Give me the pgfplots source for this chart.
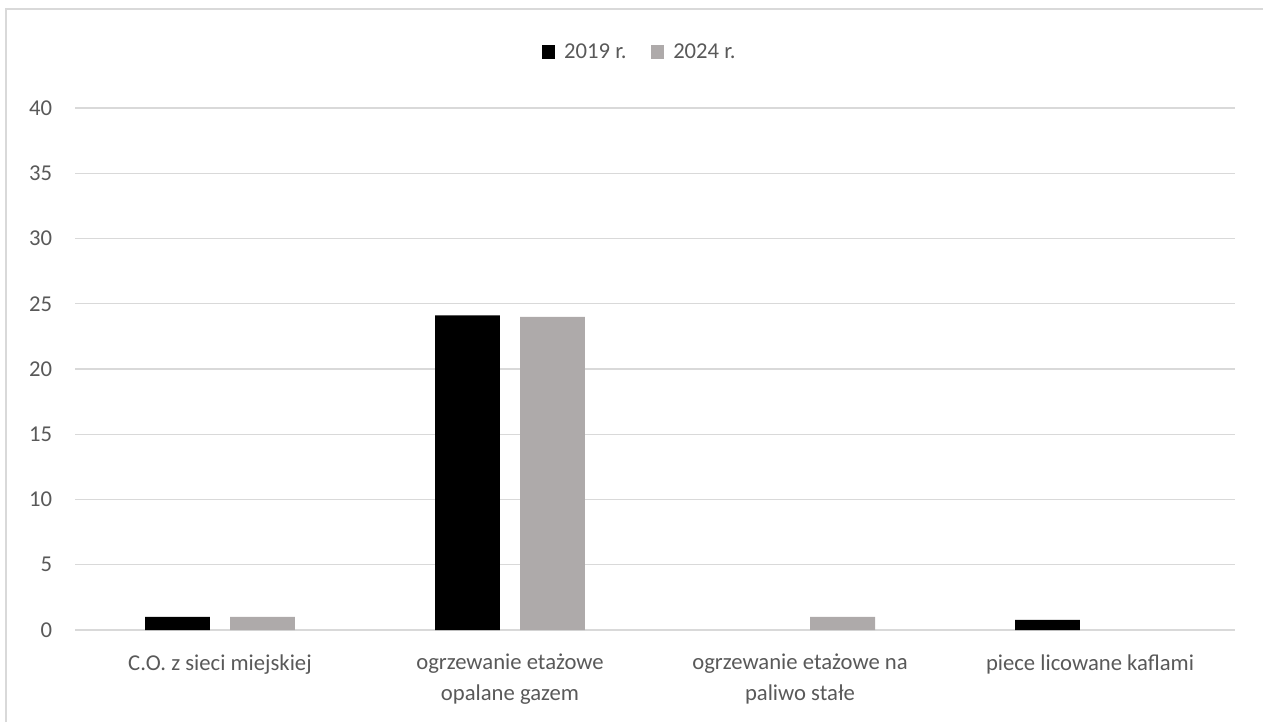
\documentclass[border=0pt]{standalone}
\usepackage{pgfplots}
\pgfplotsset{compat=1.18}
\usepackage{fontspec}
\setmainfont{Carlito}
\definecolor{txt}{HTML}{595959}
\definecolor{grd}{HTML}{D9D9D9}
\definecolor{gry}{HTML}{AEAAAA}
\begin{document}
\begin{tikzpicture}
\path[use as bounding box] (-56.25pt,-69pt) rectangle (891pt,472.5pt);
\draw[grd, line width=1.5pt] (-51.75pt,-69pt) -- (-51.75pt,465.75pt) -- (891pt,465.75pt);
\begin{axis}[
  at={(0,0)}, anchor=south west,
  scale only axis, width=870pt, height=391.5pt,
  xmin=-0.5, xmax=3.5, ymin=0, ymax=40,
  ytick={0,5,...,40},
  xtick={0,1,2,3},
  xticklabels={{C.O. z sieci miejskiej},{ogrzewanie etażowe\\opalane gazem},{ogrzewanie etażowe na\\paliwo stałe},{piece licowane kaflami}},
  axis line style={draw=none},
  major tick length=0pt,
  ymajorgrids, grid style={grd, line width=1.1pt},
  /pgf/number format/assume math mode=true,
  tick label style={font=\fontsize{17}{23}\selectfont, text=txt},
  yticklabel style={inner sep=0pt, anchor=east, xshift=-17pt},
  xticklabel style={inner sep=0pt, anchor=north, yshift=-18pt, align=center},
  ybar, bar width=0.224,
  legend style={at={(0.487,1.107)}, anchor=center, draw=none, fill=none,
    legend columns=2, font=\fontsize{17}{20}\selectfont, text=txt,
    /tikz/every odd column/.append style={column sep=5pt},
    /tikz/every even column/.append style={column sep=16pt}},
  legend image code/.code={\fill[#1] (0pt,-5pt) rectangle (10pt,5pt);},
]
\addplot[fill=black, draw=none, bar shift=-0.1466] coordinates {(0,1) (1,24.1) (3,0.78)};
\addlegendentry{2019 r.}
\addplot[fill=gry, draw=none, bar shift=0.1466] coordinates {(0,1) (1,24) (2,1)};
\addlegendentry{2024 r.}
\end{axis}
\end{tikzpicture}
\end{document}
